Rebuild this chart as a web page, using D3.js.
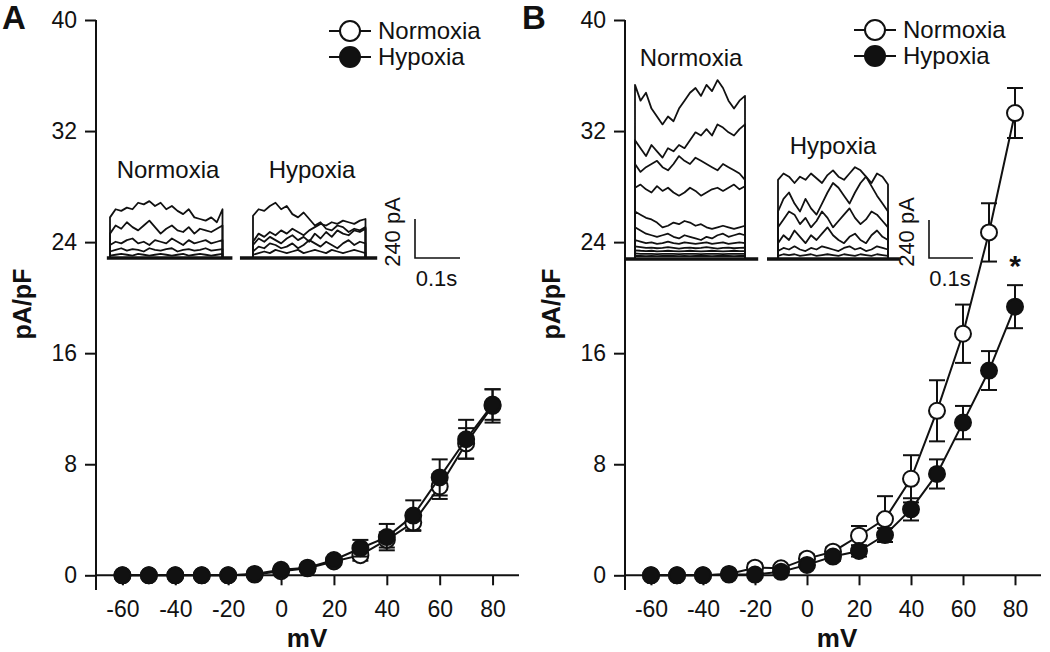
<!DOCTYPE html>
<html><head><meta charset="utf-8">
<script src="https://cdn.jsdelivr.net/npm/d3@7"></script>
<style>
body{margin:0;background:#fff}
svg{display:block}
text{font-family:"Liberation Sans",Arial,Helvetica,sans-serif;fill:#111}
</style>
</head><body>
<svg id="chart" width="1050" height="652"></svg>
<script>
// ---------------- DATA ----------------
const voltages = [-60,-50,-40,-30,-20,-10,0,10,20,30,40,50,60,70,80];
const xTicks = [-60,-40,-20,0,20,40,60,80];
const yTicks = [0,8,16,24,32,40];
const seriesNames = ["Normoxia","Hypoxia"];

// Panel A (pA/pF)
const aNormoxia    = [0,0,0,0,0,0.05,0.3,0.5,1.0,1.45,2.55,3.8,6.4,9.5,12.2];
const aNormoxiaErr = [0,0,0,0,0,0,0.1,0.1,0.2,0.4,0.55,0.55,0.9,1.1,1.2];
const aHypoxia     = [0,0,0,0,0,0.1,0.4,0.55,1.1,1.95,2.75,4.3,7.05,9.8,12.3];
const aHypoxiaErr  = [0,0,0,0,0,0,0.1,0.1,0.2,0.6,0.95,1.1,1.3,1.4,1.1];

// Panel B (pA/pF)
const bNormoxia    = [0,0,0,0.1,0.55,0.5,1.2,1.7,2.85,4.05,6.95,11.85,17.4,24.7,33.3];
const bNormoxiaErr = [0,0,0,0,0.3,0.2,0.3,0.3,0.7,1.65,1.7,2.2,2.1,2.1,1.8];
const bHypoxia     = [0,0,0,0.05,0.05,0.25,0.75,1.35,1.75,2.9,4.75,7.3,11.0,14.75,19.35];
const bHypoxiaErr  = [0,0,0,0,0,0.1,0.2,0.3,0.4,0.5,0.8,1.05,1.2,1.4,1.55];

// Inset current traces: sample times (s) and currents (pA)
const traceTimes = [0,0.0125,0.025,0.0375,0.05,0.0625,0.075,0.0875,0.1,0.1125,0.125,0.1375,0.15,0.1625,0.175,0.1875,0.2,0.2125,0.225,0.2375,0.25];
const scaleBarPA = 240;
const scaleBarS = 0.1;

const aNormoxiaTraces = [
  [250,300,290,310,300,340,330,350,320,340,300,320,290,270,300,250,240,230,250,220,300],
  [150,200,180,220,190,170,200,230,190,150,180,200,170,160,190,150,180,170,160,180,200],
  [80,100,90,110,120,90,100,80,110,100,90,120,100,80,110,90,100,110,90,100,110],
  [40,50,60,45,55,50,40,60,50,45,55,60,40,50,55,45,50,60,45,50,55],
  [15,20,25,20,15,25,20,15,20,25,20,15,20,25,15,20,25,20,15,20,25]
];
const aHypoxiaTraces = [
  [260,300,290,320,340,300,320,270,250,280,240,200,220,180,170,200,190,160,180,170,190],
  [100,150,130,160,140,170,150,180,160,140,170,190,210,200,220,210,230,220,210,230,240],
  [80,120,100,130,110,90,120,140,110,130,100,150,120,160,130,170,150,140,170,160,180],
  [40,70,60,90,80,60,70,90,60,80,110,90,70,100,80,60,90,110,80,100,90],
  [20,30,40,30,50,40,30,40,50,30,40,50,40,30,50,40,30,40,50,40,30]
];
const bNormoxiaTraces = [
  [1100,1000,1050,950,900,850,900,870,950,1000,1050,1080,1030,1100,1060,1130,1080,1000,950,1000,1030],
  [750,700,650,720,680,640,700,680,720,700,750,800,780,820,780,850,830,800,780,820,850],
  [600,550,580,600,620,580,560,600,650,620,600,640,620,600,580,560,600,580,560,540,500],
  [450,470,440,420,460,430,450,420,400,420,450,430,400,420,440,450,430,450,470,440,460],
  [300,280,260,250,230,200,210,230,220,240,230,210,220,200,190,200,210,200,190,200,210],
  [200,180,160,150,140,150,160,140,130,150,140,130,120,140,130,150,160,140,150,160,150],
  [120,110,100,105,95,100,110,100,95,105,100,95,100,105,95,100,105,95,100,105,100],
  [80,75,70,72,68,70,75,70,65,70,72,68,70,75,70,65,70,72,68,70,72],
  [55,52,50,52,48,50,52,50,48,50,52,50,48,50,52,50,48,50,52,50,50],
  [35,33,32,33,31,32,33,32,31,32,33,32,31,32,33,32,31,32,33,32,32],
  [20,19,18,19,18,19,20,19,18,19,18,19,20,19,18,19,20,19,18,19,19]
];
const bHypoxiaTraces = [
  [500,540,520,480,520,500,540,510,480,530,560,520,500,540,580,560,520,480,540,520,470],
  [300,380,420,350,300,380,320,280,350,420,480,450,400,350,420,480,520,460,400,350,300],
  [200,250,300,280,220,260,200,240,300,260,200,240,280,320,260,220,250,300,280,240,200],
  [100,150,120,180,140,100,150,120,160,200,150,120,100,140,160,120,100,150,180,140,120],
  [50,70,60,80,60,50,70,60,80,70,60,50,70,80,60,70,50,60,80,70,60],
  [20,30,25,30,20,25,30,20,25,30,25,20,30,25,20,30,25,20,30,25,20]
];

// ---------------- DRAWING ----------------
const svg = d3.select("#chart");
const FONT = 23;

function drawPanel(cfg) {
  const g = svg.append("g");
  const x = d3.scaleLinear().domain([-70, 90]).range([cfg.axisX, cfg.right]);
  const y = d3.scaleLinear().domain([0, 40]).range([575.3, 20]);

  // axes
  const yAx = g.append("g").attr("transform", `translate(${cfg.axisX},0)`)
    .call(d3.axisLeft(y).tickValues(yTicks).tickSize(11).tickPadding(8).tickFormat(d => String(d)));
  yAx.select(".domain").remove();
  const xAx = g.append("g").attr("transform", `translate(0,${y(0)})`)
    .call(d3.axisBottom(x).tickValues(xTicks).tickSize(10).tickPadding(15).tickFormat(d => String(d)));
  xAx.select(".domain").remove();
  [yAx, xAx].forEach(a => {
    a.selectAll("line").attr("stroke", "#111").attr("stroke-width", 2);
    a.selectAll("text").attr("font-size", FONT).style("font-family", '"Liberation Sans",Arial,sans-serif').attr("fill", "#111");
  });
  g.append("line").attr("x1", cfg.axisX).attr("x2", cfg.axisX).attr("y1", y(40)).attr("y2", 590)
    .attr("stroke", "#111").attr("stroke-width", 2);
  g.append("line").attr("x1", cfg.axisX).attr("x2", cfg.right).attr("y1", y(0)).attr("y2", y(0))
    .attr("stroke", "#111").attr("stroke-width", 2);

  // axis titles
  g.append("text").attr("transform", `translate(${cfg.axisX - 65},304) rotate(-90)`)
    .attr("text-anchor", "middle").attr("font-size", 25).attr("font-weight", "bold").text("pA/pF");
  g.append("text").attr("x", cfg.mvX).attr("y", 647).attr("text-anchor", "middle")
    .attr("font-size", 26).attr("font-weight", "bold").text("mV");

  // panel letter
  g.append("text").attr("x", cfg.letterX).attr("y", 29).attr("font-size", 33).attr("font-weight", "bold")
    .text(cfg.letter);

  // data series
  const series = [
    {name: seriesNames[0], mean: cfg.norm, err: cfg.normErr, fill: "#fff"},
    {name: seriesNames[1], mean: cfg.hyp, err: cfg.hypErr, fill: "#111"}
  ];
  const line = d3.line().x(d => x(d.v)).y(d => y(d.m));
  series.forEach(s => {
    const pts = voltages.map((v, i) => ({v, m: s.mean[i], e: s.err[i]}));
    const sg = g.append("g");
    sg.append("path").attr("d", line(pts)).attr("fill", "none").attr("stroke", "#111").attr("stroke-width", 2);
    pts.filter(p => p.e > 0).forEach(p => {
      const cx = x(p.v), y1 = y(p.m + p.e), y2 = y(p.m - p.e);
      sg.append("line").attr("x1", cx).attr("x2", cx).attr("y1", y1).attr("y2", y2).attr("stroke", "#111").attr("stroke-width", 2);
      [y1, y2].forEach(yy => sg.append("line").attr("x1", cx - 8).attr("x2", cx + 8).attr("y1", yy).attr("y2", yy)
        .attr("stroke", "#111").attr("stroke-width", 2));
    });
    sg.selectAll("circle").data(pts).join("circle")
      .attr("cx", d => x(d.v)).attr("cy", d => y(d.m)).attr("r", 8)
      .attr("fill", s.fill).attr("stroke", "#111").attr("stroke-width", 2);
  });

  // legend
  series.forEach((s, i) => {
    const ly = cfg.legY[i];
    g.append("line").attr("x1", cfg.legX - 21).attr("x2", cfg.legX + 21).attr("y1", ly).attr("y2", ly)
      .attr("stroke", "#111").attr("stroke-width", 2);
    g.append("circle").attr("cx", cfg.legX).attr("cy", ly).attr("r", 10)
      .attr("fill", s.fill).attr("stroke", "#111").attr("stroke-width", 2);
    g.append("text").attr("x", cfg.legX + 28).attr("y", ly + 8).attr("font-size", FONT + 1).text(s.name);
  });

  // asterisk
  if (cfg.star) {
    g.append("text").attr("x", x(80)).attr("y", 276).attr("text-anchor", "middle")
      .attr("font-size", 30).attr("font-weight", "bold").text("*");
  }

  // inset traces
  cfg.insets.forEach(ins => {
    const tx = d3.scaleLinear().domain([0, scaleBarS]).range([ins.x0, ins.x0 + cfg.pxPerBarS]);
    const ty = d3.scaleLinear().domain([0, scaleBarPA]).range([ins.base, ins.base - cfg.pxPerBarPA]);
    const ig = g.append("g");
    const tl = d3.line().x(d => tx(d[0])).y(d => ty(d[1]));
    ins.traces.forEach(tr => {
      const pts = [[traceTimes[0], 0]].concat(traceTimes.map((t, i) => [t, tr[i]]), [[traceTimes[traceTimes.length - 1], 0]]);
      ig.append("path").attr("d", tl(pts)).attr("fill", "none").attr("stroke", "#111")
        .attr("stroke-width", 1.8).attr("stroke-linejoin", "round");
    });
    ig.append("line").attr("x1", tx(ins.bs[0])).attr("x2", tx(ins.bs[1])).attr("y1", ty(0)).attr("y2", ty(0))
      .attr("stroke", "#111").attr("stroke-width", 3.5);
    ig.append("text").attr("x", ins.labelX).attr("y", ins.labelY).attr("text-anchor", "middle")
      .attr("font-size", FONT + 1).text(ins.label);
  });

  // scale bar
  const sbx = d3.scaleLinear().domain([0, scaleBarS]).range([cfg.sb.x, cfg.sb.x + cfg.pxPerBarS]);
  const sby = d3.scaleLinear().domain([0, scaleBarPA]).range([cfg.sb.y, cfg.sb.y - cfg.pxPerBarPA]);
  g.append("path").attr("d", `M${sbx(0)},${sby(scaleBarPA)}V${sby(0)}H${sbx(scaleBarS)}`)
    .attr("fill", "none").attr("stroke", "#111").attr("stroke-width", 1.6);
  g.append("text").attr("transform", `translate(${sbx(0) - 15},${cfg.sb.y - 26}) rotate(-90)`)
    .attr("text-anchor", "middle").attr("font-size", 22).text(scaleBarPA + " pA");
  g.append("text").attr("x", sbx(0.05) - 1).attr("y", cfg.sb.y + 28).attr("text-anchor", "middle")
    .attr("font-size", 22).text(scaleBarS + "s");
}

drawPanel({
  letter: "A", letterX: 2, axisX: 96, right: 519, mvX: 307,
  norm: aNormoxia, normErr: aNormoxiaErr, hyp: aHypoxia, hypErr: aHypoxiaErr,
  legX: 350, legY: [31, 57], star: false,
  pxPerBarS: 45, pxPerBarPA: 39,
  sb: {x: 415, y: 258},
  insets: [
    {x0: 110, base: 258, traces: aNormoxiaTraces, bs: [-0.007, 0.272], label: "Normoxia", labelX: 168, labelY: 178},
    {x0: 253, base: 258, traces: aHypoxiaTraces, bs: [-0.029, 0.276], label: "Hypoxia", labelX: 312, labelY: 178}
  ]
});
drawPanel({
  letter: "B", letterX: 522, axisX: 625, right: 1041, mvX: 837,
  norm: bNormoxia, normErr: bNormoxiaErr, hyp: bHypoxia, hypErr: bHypoxiaErr,
  legX: 875, legY: [30, 56], star: true,
  pxPerBarS: 44, pxPerBarPA: 38,
  sb: {x: 929, y: 258},
  insets: [
    {x0: 635, base: 259, traces: bNormoxiaTraces, bs: [-0.023, 0.28], label: "Normoxia", labelX: 691, labelY: 66},
    {x0: 778, base: 259, traces: bHypoxiaTraces, bs: [-0.025, 0.277], label: "Hypoxia", labelX: 833, labelY: 154}
  ]
});
</script>
</body></html>
